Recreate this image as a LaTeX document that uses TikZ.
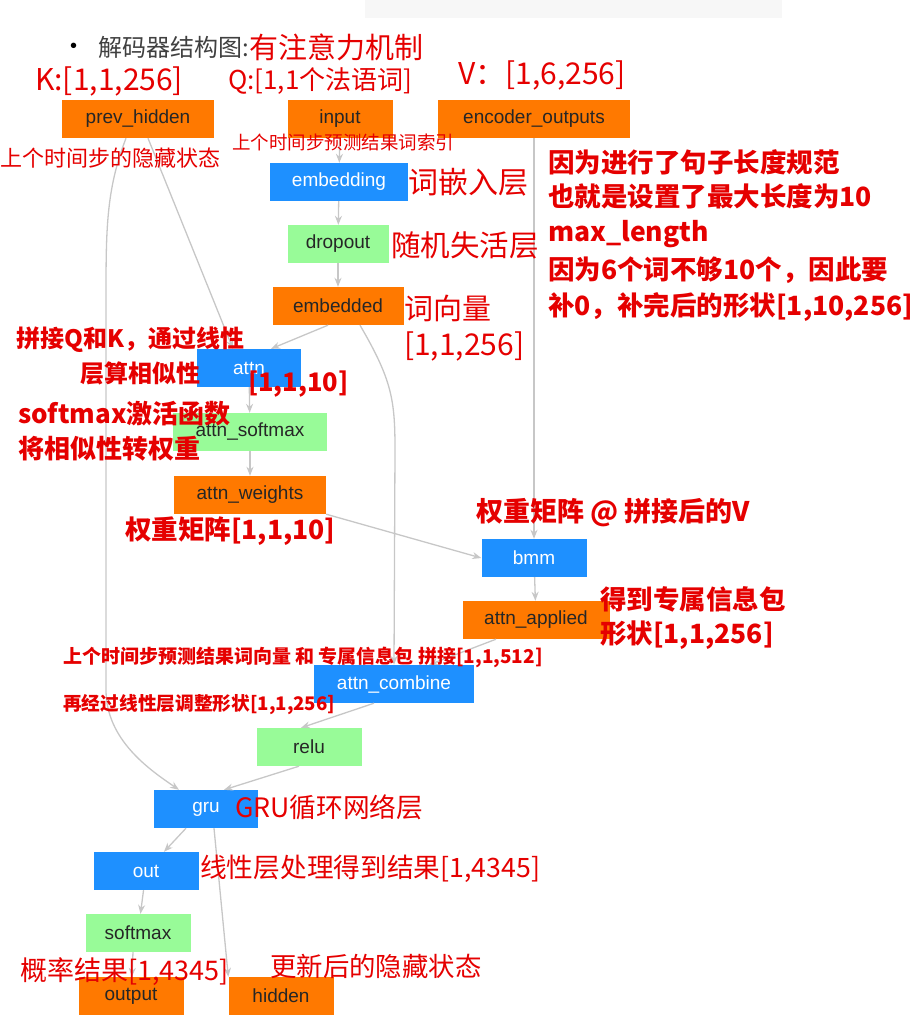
\documentclass[tikz,border=0pt]{standalone}
\usepackage{fontspec}
\setmainfont{Liberation Sans}
\newfontfamily\cjk{Noto Sans CJK SC}
\usetikzlibrary{arrows.meta}
\newcommand{\fsz}[1]{\fontsize{#1}{#1}\selectfont}

\begin{document}
\begin{tikzpicture}[x=1pt,y=-1pt,
    edge/.style={draw=black!22,line width=1.3pt,-{Stealth[length=9pt,width=7pt]}},
    lab/.style={text=red!90!black,anchor=west,inner sep=0pt,font=\cjk\fsz{#1}},
    blab/.style={text=red!90!black,anchor=west,inner sep=0pt,font=\cjk\bfseries\fsz{#1}}]

    % `layer' is the box of one step of the decoder.
    % `org', `blu' and `grn' only set its colour.
    \tikzstyle{layer} = [minimum width=105pt,minimum height=38pt,inner sep=0pt,font=\fsz{19}]
    \tikzstyle{org} = [layer,fill=orange!95!red,text=black!85]
    \tikzstyle{blu} = [layer,fill={rgb,255:red,30;green,144;blue,255},text=white]
    \tikzstyle{grn} = [layer,fill={rgb,255:red,152;green,251;blue,152},text=black!85]
    %
    \useasboundingbox (0,0) rectangle (918,1030);
    \fill[black!3] (365,0) rectangle (782,18);

    % Inputs.
    \node[org,minimum width=152pt] (prev_hidden) at (138,119) {prev\_hidden};
    \node[org] (input) at (340,119) {input};
    \node[org,minimum width=192pt] (encoder_outputs) at (534,119) {encoder\_outputs};

    % Attention branch.
    \node[blu,minimum width=138pt] (embedding) at (339,182) {embedding};
    \node[grn,minimum width=101pt] (dropout) at (338,244) {dropout};
    \node[org,minimum width=131pt] (embedded) at (338,306) {embedded};
    \node[blu,minimum width=104pt] (attn) at (249,368) {attn};
    \node[grn,minimum width=154pt] (attn_softmax) at (250,432) {attn\_softmax};
    \node[org,minimum width=152pt] (attn_weights) at (250,495) {attn\_weights};
    \node[blu] (bmm) at (534,558) {bmm};
    \node[org,minimum width=147pt] (attn_applied) at (536,620) {attn\_applied};
    \node[blu,minimum width=160pt] (attn_combine) at (394,684) {attn\_combine};

    % Output branch.
    \node[grn] (relu) at (309,747) {relu};
    \node[blu,minimum width=104pt] (gru) at (206,809) {gru};
    \node[blu] (out) at (146,871) {out};
    \node[grn] (softmax) at (138,933) {softmax};
    \node[org] (output) at (131,996) {output};
    \node[org] (hidden) at (281,996) {hidden};

    % Connectors.
    \draw[edge] (input) -- (embedding);
    \draw[edge] (embedding) -- (dropout);
    \draw[edge] (dropout) -- (embedded);
    \draw[edge] ([xshift=-10pt]embedded.south) -- ([xshift=22pt]attn.north);
    \draw[edge] ([xshift=10pt]prev_hidden.south) -- ([xshift=-16pt]attn.north);
    \draw[edge] (attn) -- (attn_softmax);
    \draw[edge] (attn_softmax) -- (attn_weights);
    \draw[edge] (attn_weights.south east) -- (bmm.west);
    \draw[edge] (encoder_outputs) -- (bmm);
    \draw[edge] (bmm) -- (attn_applied);
    \draw[edge] ([xshift=-40pt]attn_applied.south) -- ([xshift=35pt]attn_combine.north);
    \draw[edge] ([xshift=22pt]embedded.south) .. controls (392,380) and (395,400) .. (395,450) -- (attn_combine.north);
    \draw[edge] ([xshift=-20pt]attn_combine.south) -- ([xshift=-8pt]relu.north);
    \draw[edge] ([xshift=-10pt]relu.south) -- ([xshift=18pt]gru.north);
    \draw[edge] ([xshift=-12pt]prev_hidden.south) .. controls (106,190) and (106,230) .. (106,300)
                -- (106,690) .. controls (106,740) and (150,770) .. ([xshift=-27pt]gru.north);
    \draw[edge] ([xshift=-20pt]gru.south) -- (out);
    \draw[edge] ([xshift=8pt]gru.south) -- (hidden.north west);
    \draw[edge] (out) -- (softmax);
    \draw[edge] ([xshift=-5pt]softmax.south) -- (output);

    % Texts.
    \node[anchor=west,inner sep=0pt,font=\fsz{20}] (dot) at (70,48) {\textbullet};
    \node[anchor=west,inner sep=0pt,font=\cjk\fsz{24},text=black!75] (title) at (98,47) {解码器结构图:};
    \node[lab=29,anchor=west] (titlered) at (title.east) {有注意力机制};
    \node[lab=30] (K) at (35,81) {K:[1,1,256]};
    \node[lab=26] (Q) at (228,81) {Q:[1,1个法语词]};
    \node[lab=30] (V) at (458,75) {V：[1,6,256]};
    \node[lab=22] (prevlab) at (0,158) {上个时间步的隐藏状态};
    \node[lab=18.5] (inputlab) at (232,142) {上个时间步预测结果词索引};
    \node[lab=30] (emblab) at (408,182) {词嵌入层};
    \node[lab=29.5] (droplab) at (391,245) {随机失活层};
    \node[lab=29] (vec1) at (404,308) {词向量};
    \node[lab=30] (vec2) at (404,346) {[1,1,256]};
    \node[blab=26.5,anchor=north west,align=left] (pad) at (548,149) {%
      因为进行了句子长度规范\\[8pt]也就是设置了最大长度为10\\[8pt]max\_length\\[8pt]%
      因为6个词不够10个，因此要\\[8pt]补0，补完后的形状[1,10,256]};
    \node[blab=24] (qk1) at (16,340) {拼接Q和K，通过线性};
    \node[blab=24,anchor=east] (qk2) at (201,373) {层算相似性};
    \node[blab=25.5] (attnsz) at (248,384) {[1,1,10]};
    \node[blab=26,anchor=west,align=left] (smlab) at (18,431) {softmax激活函数\\[9pt]将相似性转权重};
    \node[blab=26.5] (wlab) at (125,531) {权重矩阵[1,1,10]};
    \node[blab=27] (bmmlab) at (476,513) {权重矩阵 @ 拼接后的V};
    \node[blab=26.5,align=left] (applab) at (600,618) {得到专属信息包\\[7pt]形状[1,1,256]};
    \node[blab=19] (catlab) at (63,657) {上个时间步预测结果词向量 和 专属信息包 拼接[1,1,512]};
    \node[blab=18.7] (linlab) at (63,705) {再经过线性层调整形状[1,1,256]};
    \node[lab=26.7] (grulab) at (235,807) {GRU循环网络层};
    \node[lab=26.7] (outlab) at (200,869) {线性层处理得到结果[1,4345]};
    \node[lab=27] (problab) at (20,972) {概率结果[1,4345]};
    \node[lab=26.4] (hidlab) at (270,966) {更新后的隐藏状态};
\end{tikzpicture}
\end{document}
